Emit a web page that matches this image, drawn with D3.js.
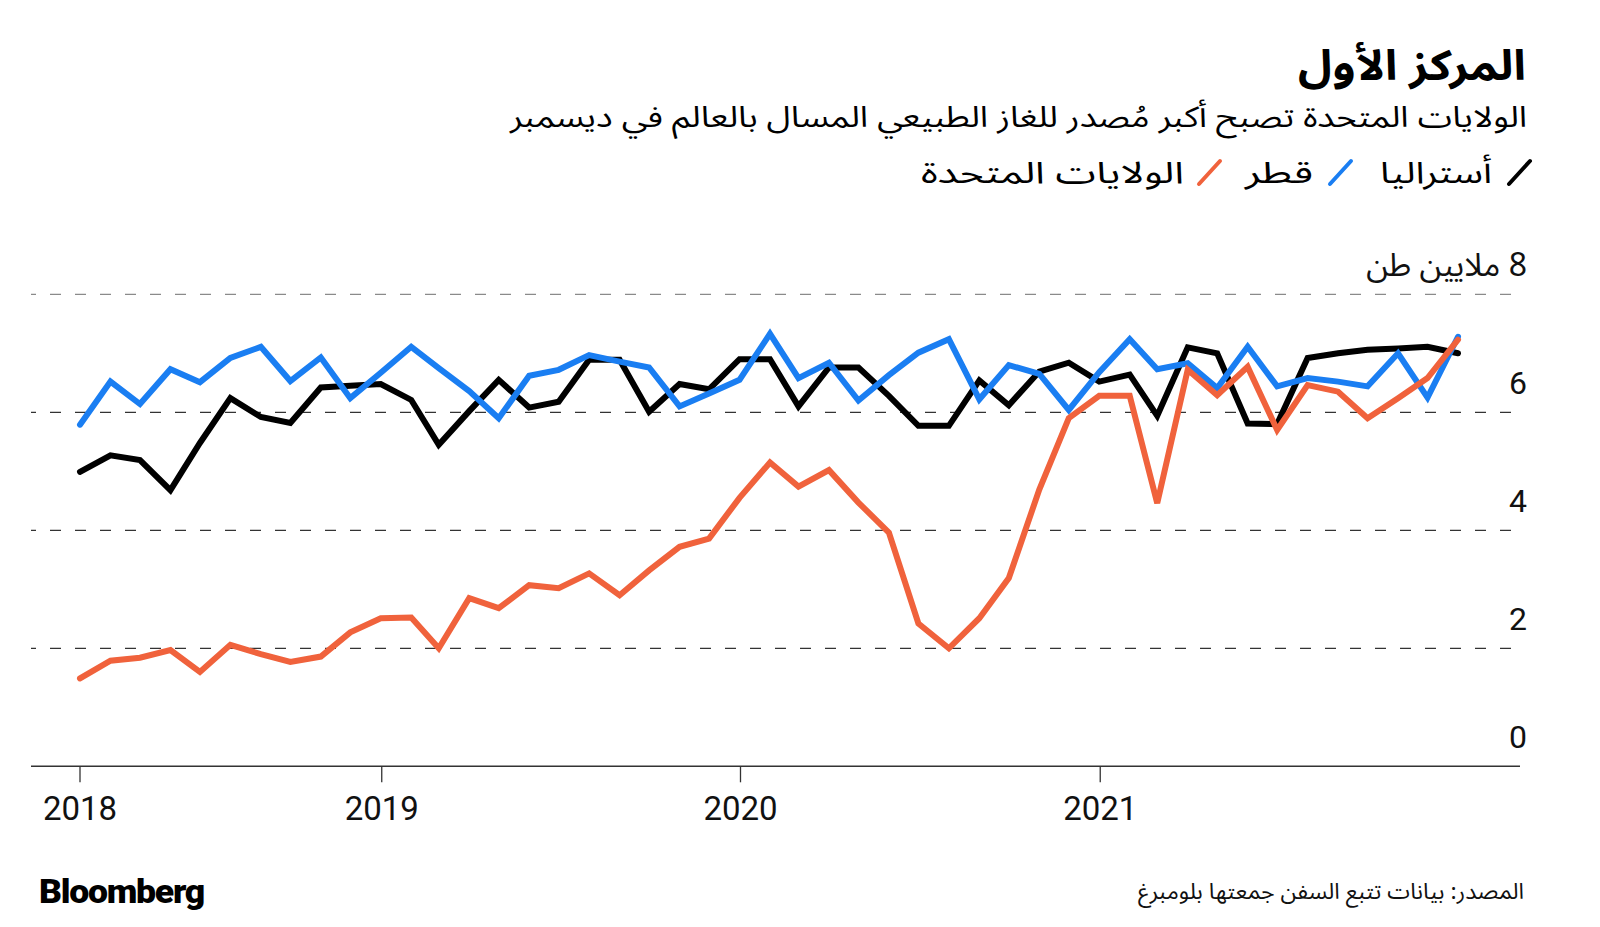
<!DOCTYPE html>
<html><head><meta charset="utf-8">
<script src="https://cdn.jsdelivr.net/npm/d3@7"></script>
<style>body{margin:0;background:#fff} svg{display:block}</style>
</head><body><svg id="c" width="1600" height="927"></svg>
<script>
// ---------- data ----------
const months = [
 "2018-02","2018-03","2018-04","2018-05","2018-06","2018-07","2018-08","2018-09","2018-10","2018-11","2018-12",
 "2019-01","2019-02","2019-03","2019-04","2019-05","2019-06","2019-07","2019-08","2019-09","2019-10","2019-11","2019-12",
 "2020-01","2020-02","2020-03","2020-04","2020-05","2020-06","2020-07","2020-08","2020-09","2020-10","2020-11","2020-12",
 "2021-01","2021-02","2021-03","2021-04","2021-05","2021-06","2021-07","2021-08","2021-09","2021-10","2021-11","2021-12"];
const australia = [4.99,5.27,5.19,4.68,5.48,6.24,5.92,5.82,6.42,6.45,6.48,
 6.21,5.45,6.02,6.55,6.08,6.18,6.89,6.89,6.01,6.48,6.39,6.90,
 6.90,6.10,6.76,6.76,6.28,5.77,5.77,6.54,6.12,6.69,6.84,6.52,
 6.64,5.94,7.10,7.00,5.81,5.80,6.92,7.00,7.06,7.08,7.11,7.00];
const qatar = [5.79,6.52,6.14,6.73,6.51,6.92,7.11,6.53,6.93,6.24,6.67,
 7.11,6.75,6.36,5.90,6.62,6.72,6.97,6.86,6.76,6.10,6.32,6.55,
 7.33,6.58,6.84,6.20,6.63,7.01,7.24,6.22,6.80,6.65,6.04,6.68,
 7.24,6.73,6.83,6.41,7.11,6.44,6.58,6.52,6.44,7.00,6.25,7.28];
const usa = [1.49,1.79,1.84,1.97,1.60,2.06,1.90,1.77,1.86,2.27,2.51,
 2.52,2.00,2.85,2.68,3.07,3.02,3.27,2.90,3.32,3.72,3.86,4.55,
 5.15,4.74,5.02,4.47,3.96,2.42,2.00,2.51,3.19,4.69,5.90,6.28,
 6.28,4.46,6.72,6.29,6.77,5.70,6.46,6.35,5.90,6.24,6.58,7.23];
const seriesNames = ["أستراليا","قطر","الولايات المتحدة"];
const seriesColors = ["#000000","#1a7ef2","#f0623c"];
const yTicks = [0,2,4,6,8];
const yTickLabels = ["0","2","4","6","8 ملايين طن"];
const xTickDates = ["2018-02-28","2019-01-01","2020-01-01","2021-01-01"];
const xTickLabels = ["2018","2019","2020","2021"];
const titleText = "المركز الأول";
const subtitleText = "الولايات المتحدة تصبح أكبر مُصدر للغاز الطبيعي المسال بالعالم في ديسمبر";
const sourceText = "المصدر: بيانات تتبع السفن جمعتها بلومبرغ";

// ---------- setup ----------
const AR = "'Noto Sans Arabic','Noto Kufi Arabic','DejaVu Sans',sans-serif";
const NUM = "Roboto,'Liberation Sans',sans-serif";
const svg = d3.select("#c");
const parseM = d3.timeParse("%Y-%m");
const parseD = d3.timeParse("%Y-%m-%d");
const dates = months.map(m => d3.timeDay.offset(d3.timeMonth.offset(parseM(m), 1), -1));
const x = d3.scaleTime().domain([dates[0], dates[dates.length-1]]).range([80, 1458]);
const y = d3.scaleLinear().domain([0, 8]).range([766.3, 294.3]);
const gridX0 = 31, gridX1 = 1520;

// helper: rtl text fitted to a width
function rtlText(xr, yb, str, size, width, weight) {
  return svg.append("text").attr("x", xr).attr("y", yb)
    .attr("direction", "rtl").attr("text-anchor", "start")
    .attr("font-family", AR).attr("font-weight", weight || 400)
    .attr("font-size", size).attr("fill", "#000")
    .attr("textLength", width).attr("lengthAdjust", "spacingAndGlyphs")
    .text(str);
}

// gridlines
svg.append("g").selectAll("line").data(yTicks.filter(v => v > 0)).join("line")
  .attr("x1", gridX0).attr("x2", gridX1)
  .attr("y1", d => y(d)).attr("y2", d => y(d))
  .attr("stroke", d => d === 8 ? "#8a8a8a" : "#333")
  .attr("stroke-width", 1.3)
  .attr("stroke-dasharray", "11,14")
  .attr("stroke-dashoffset", 6);

// y labels
svg.append("g").selectAll("text").data(yTicks).join("text")
  .attr("x", 1527).attr("y", d => y(d) - 18)
  .attr("direction", "rtl").attr("text-anchor", "start")
  .attr("font-family", (d,i) => i === 4 ? AR : NUM)
  .attr("font-size", 32).attr("fill", "#111")
  .text((d,i) => yTickLabels[i]);

// x axis
const xAxis = svg.append("g");
xAxis.append("line").attr("x1", gridX0).attr("x2", gridX1)
  .attr("y1", y(0)).attr("y2", y(0)).attr("stroke", "#333").attr("stroke-width", 1.5);
const tks = xAxis.selectAll("g.t").data(xTickDates.map(parseD)).join("g").attr("class","t")
  .attr("transform", d => `translate(${x(d)},0)`);
tks.append("line").attr("y1", y(0)).attr("y2", y(0) + 16).attr("stroke", "#333").attr("stroke-width", 1.3);
tks.append("text").attr("y", 820).attr("text-anchor", "middle")
  .attr("font-family", NUM).attr("font-size", 33).attr("fill", "#111")
  .text((d,i) => xTickLabels[i]);

// lines
const series = [australia, qatar, usa];
const line = d3.line().x((d,i) => x(dates[i])).y(d => y(d));
svg.append("g").selectAll("path").data(series).join("path")
  .attr("d", d => line(d))
  .attr("fill", "none")
  .attr("stroke", (d,i) => seriesColors[i])
  .attr("stroke-width", 6)
  .attr("stroke-linejoin", "miter")
  .attr("stroke-miterlimit", 4)
  .attr("stroke-linecap", "round");

// title & subtitle
rtlText(1526, 80, titleText, 42, 228, 700);
rtlText(1527, 127, subtitleText, 29, 1017, 400);

// legend (right to left): slash right ends, text right edges, text widths
const legSlashR = [1531, 1352, 1221];
const legTextR = [1492, 1313, 1184];
const legTextW = [112, 68, 263];
const ly = 183;
seriesNames.forEach((name, i) => {
  svg.append("line").attr("x1", legSlashR[i] - 22).attr("y1", ly + 1)
    .attr("x2", legSlashR[i] - 1).attr("y2", ly - 22)
    .attr("stroke", seriesColors[i]).attr("stroke-width", 4).attr("stroke-linecap", "round");
  rtlText(legTextR[i], ly, name, 30, legTextW[i], 400);
});

// footer
rtlText(1524, 899, sourceText, 22, 386, 400).attr("fill", "#111");
svg.append("text").attr("x", 39).attr("y", 903)
  .attr("font-family", "Roboto,'Liberation Sans',sans-serif").attr("font-weight", 900)
  .attr("font-size", 34).attr("letter-spacing", -1.2).attr("fill", "#000")
  .attr("textLength", 165).attr("lengthAdjust", "spacingAndGlyphs")
  .text("Bloomberg");
</script></body></html>
